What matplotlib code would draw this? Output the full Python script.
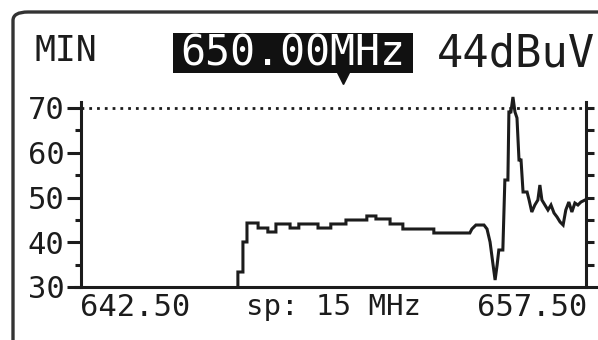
import matplotlib
matplotlib.use("Agg")
import matplotlib.pyplot as plt
from matplotlib.patches import FancyBboxPatch, Rectangle
from matplotlib.lines import Line2D

# Spectrum trace: frequency (MHz) and level (dBuV), step-drawn as the meter shows it
freq = [647.16, 647.16, 647.31, 647.31, 647.43, 647.43, 647.76, 647.76, 648.05, 648.05,
        648.29, 648.29, 648.71, 648.71, 648.97, 648.97, 649.54, 649.54, 649.92, 649.92,
        650.37, 650.37, 650.99, 650.99, 651.26, 651.26, 651.68, 651.68, 652.06, 652.06,
        652.98, 652.98, 654.05, 654.11, 654.23, 654.47, 654.56, 654.65, 654.74, 654.80,
        654.86, 654.91, 655.03, 655.09, 655.18, 655.21, 655.27, 655.33, 655.39, 655.45,
        655.51, 655.57, 655.63, 655.75, 655.81, 655.89, 655.98, 656.07, 656.13, 656.19,
        656.28, 656.37, 656.46, 656.55, 656.64, 656.73, 656.82, 656.90, 656.99, 657.08,
        657.17, 657.26, 657.35, 657.47]
level = [30.0, 33.35, 33.35, 40.06, 40.06, 44.30, 44.30, 43.18, 43.18, 42.29,
         42.29, 44.08, 44.08, 43.18, 43.18, 44.08, 44.08, 43.18, 43.18, 44.08,
         44.08, 44.97, 44.97, 45.87, 45.87, 45.20, 45.20, 44.08, 44.08, 42.96,
         42.96, 42.07, 42.07, 42.96, 43.85, 43.85, 42.96, 40.06, 34.92, 31.56,
         34.92, 38.27, 38.27, 53.91, 53.91, 69.11, 69.11, 72.46, 69.11, 67.77,
         58.38, 58.38, 51.23, 51.23, 49.44, 46.76, 48.32, 49.44, 52.79, 49.44,
         48.32, 47.21, 48.32, 46.54, 45.64, 44.53, 43.85, 47.21, 48.99, 46.76,
         48.77, 48.32, 48.99, 49.44]

f_start, f_stop = 642.50, 657.50
y_min, y_max = 30, 70
y_ticks = [30, 40, 50, 60, 70]
y_minor = [35, 45, 55, 65]
right_ticks = [35, 40, 45, 50, 55, 60, 65, 70]
start_label, span_label, stop_label = "642.50", "sp: 15 MHz", "657.50"
mode_label, center_label, ref_label = "MIN", "650.00MHz", "44dBuV"

W, H = 598, 340
INK = "#1c1c1c"
MONO = "DejaVu Sans Mono"

fig = plt.figure(figsize=(W / 100, H / 100), dpi=100)
fig.patch.set_facecolor("white")


def fx(px):
    return px / W


def fy(py):
    return 1 - py / H


# Display bezel (rounded frame running off the right and bottom edges)
bezel = FancyBboxPatch((fx(13), fy(370)), fx(640) - fx(13), fy(12) - fy(370),
                       boxstyle="round,pad=0,rounding_size=0.025",
                       transform=fig.transFigure, fill=False,
                       edgecolor="#333333", linewidth=2.4, clip_on=False)
fig.add_artist(bezel)

# Plot area
left_px, right_px, bottom_px, top_px = 81, 586, 287, 102
ax = fig.add_axes([fx(left_px), fy(bottom_px), fx(right_px) - fx(left_px),
                   fy(top_px) - fy(bottom_px)])
ax.set_facecolor("none")
ax.set_xlim(f_start, f_stop)
ax.set_ylim(y_min, y_min + (y_max - y_min) * (bottom_px - top_px) / (287 - 108))

for side in ("top", "bottom"):
    ax.spines[side].set_visible(False)
for side in ("left", "right"):
    ax.spines[side].set_linewidth(2.2)
    ax.spines[side].set_color(INK)

ax.set_xticks([])
ax.set_yticks(y_ticks)
ax.set_yticks(y_minor, minor=True)
ax.set_yticklabels([str(v) for v in y_ticks], fontfamily=MONO, fontsize=22, color=INK)
ax.tick_params(axis="y", which="major", direction="out", length=10, width=2.2,
               color=INK, pad=2, left=True, right=False)
ax.tick_params(axis="y", which="minor", direction="out", length=4, width=2.2,
               color=INK, left=True, right=False)

# Right-hand scale with ticks every 5 dB
rax = ax.secondary_yaxis("right")
rax.set_yticks(right_ticks)
rax.set_yticklabels([])
rax.tick_params(direction="out", length=6, width=2.2, color=INK)
rax.spines["right"].set_visible(False)

# Reference level dotted line
ax.axhline(y_max, color=INK, linewidth=2.0, linestyle=(0, (1.0, 1.8)), zorder=1)

# Trace
ax.plot(freq, level, color=INK, linewidth=2.2, solid_joinstyle="miter",
        clip_on=False, zorder=3)

# Baseline running past both scales
fig.add_artist(Line2D([fx(74), fx(598)], [fy(287), fy(287)], transform=fig.transFigure,
                      color=INK, linewidth=2.2, solid_capstyle="butt"))

# Header
fig.text(fx(35), fy(51), mode_label, fontfamily=MONO, fontsize=25, color=INK,
         ha="left", va="center")
fig.add_artist(Rectangle((fx(173), fy(73)), fx(413) - fx(173), fy(33) - fy(73),
                         transform=fig.transFigure, facecolor="#111111",
                         edgecolor="none"))
fig.text(fx(293), fy(53), center_label, fontfamily=MONO, fontsize=30, color="white",
         ha="center", va="center")
fig.add_artist(Line2D([fx(343)], [fy(78)], transform=fig.transFigure, marker="v",
                      markersize=9, color="#111111", linestyle="none"))
fig.text(fx(437), fy(54), ref_label, fontfamily=MONO, fontsize=31.5, color=INK,
         ha="left", va="center")

# Frequency labels
fig.text(fx(80), fy(307), start_label, fontfamily=MONO, fontsize=22, color=INK,
         ha="left", va="center")
fig.text(fx(333), fy(307), span_label, fontfamily=MONO, fontsize=21, color=INK,
         ha="center", va="center")
fig.text(fx(587), fy(307), stop_label, fontfamily=MONO, fontsize=22, color=INK,
         ha="right", va="center")

fig.savefig("out.png", dpi=100)
